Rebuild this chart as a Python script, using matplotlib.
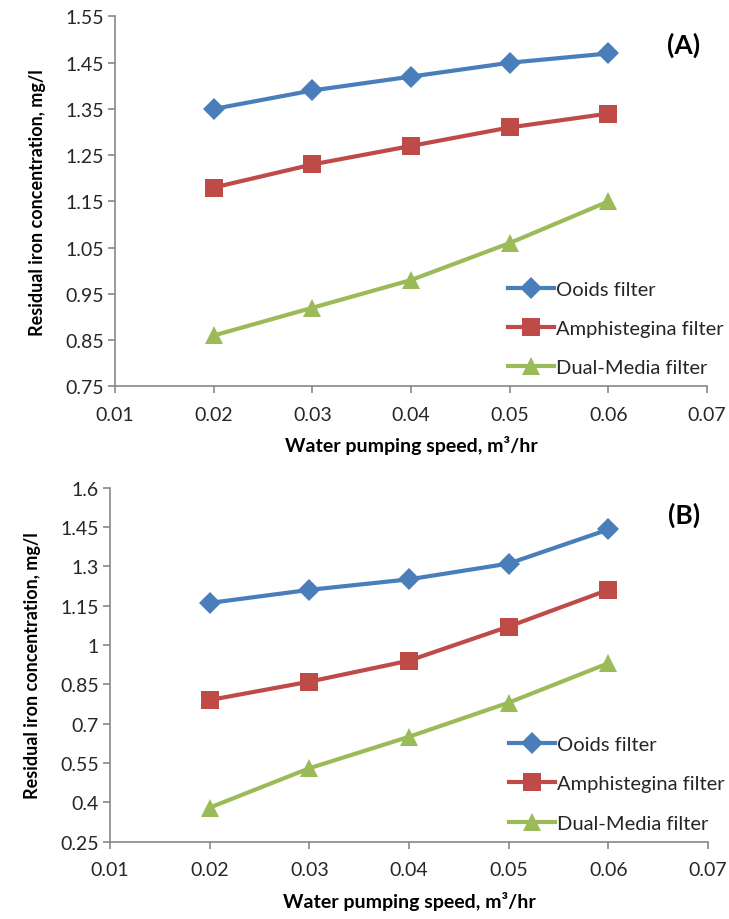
import matplotlib
matplotlib.use("Agg")
import matplotlib.pyplot as plt

plt.rcParams['font.family'] = ['Lato', 'DejaVu Sans']

# data
speed = [0.02, 0.03, 0.04, 0.05, 0.06]
series_names = ["Ooids filter", "Amphistegina filter", "Dual-Media filter"]

ooids_a = [1.35, 1.39, 1.42, 1.45, 1.47]
amph_a = [1.18, 1.23, 1.27, 1.31, 1.34]
dual_a = [0.86, 0.92, 0.98, 1.06, 1.15]

ooids_b = [1.16, 1.21, 1.25, 1.31, 1.44]
amph_b = [0.79, 0.86, 0.94, 1.07, 1.21]
dual_b = [0.38, 0.53, 0.65, 0.78, 0.93]

x_ticks = [0.01, 0.02, 0.03, 0.04, 0.05, 0.06, 0.07]
y_ticks_a = [0.75, 0.85, 0.95, 1.05, 1.15, 1.25, 1.35, 1.45, 1.55]
y_ticks_b = [0.25, 0.4, 0.55, 0.7, 0.85, 1, 1.15, 1.3, 1.45, 1.6]
y_labels_b = ["0.25", "0.4", "0.55", "0.7", "0.85", "1", "1.15", "1.3", "1.45", "1.6"]

colors = ["#4A7EBB", "#BE4B48", "#9BBB59"]
markers = ["D", "s", "^"]
msizes = [11, 12.5, 12.5]
axis_gray = "#888888"
text_col = "#262626"


def draw_panel(ax, ys, yticks, ylabels, tag):
    for vals, name, c, m, ms in zip(ys, series_names, colors, markers, msizes):
        ax.plot(speed, vals, color=c, marker=m, markersize=ms, linewidth=3.0,
                markeredgewidth=0, label=name)
    ax.set_xlim(0.01, 0.07)
    ax.set_ylim(yticks[0], yticks[-1])
    ax.set_xticks(x_ticks)
    ax.set_xticklabels([f"{v:.2f}" for v in x_ticks])
    ax.set_yticks(yticks)
    ax.set_yticklabels(ylabels)
    for s in ["top", "right"]:
        ax.spines[s].set_visible(False)
    for s in ["left", "bottom"]:
        ax.spines[s].set_color(axis_gray)
        ax.spines[s].set_linewidth(1.2)
    ax.tick_params(direction="out", length=5, width=1.2, color=axis_gray,
                   labelsize=14, labelcolor=text_col, pad=3)
    ax.tick_params(axis="x", pad=9)
    ax.set_xlabel("Water pumping speed, m³/hr", fontsize=14, fontweight="bold",
                  color="black", labelpad=9)
    ax.set_ylabel("Residual iron concentration, mg/l", fontsize=13, fontweight="bold",
                  color="black", labelpad=14)
    ax.text(0.96, 0.925, tag, transform=ax.transAxes, fontsize=19, fontweight="bold",
            ha="center", va="center")
    leg = ax.legend(loc="lower right", bbox_to_anchor=(1.045, 0.0), frameon=False,
                    fontsize=14.5, handlelength=2.3, handletextpad=0.1,
                    labelspacing=1.1, borderaxespad=0.1)
    for t in leg.get_texts():
        t.set_color(text_col)


fig = plt.figure(figsize=(7.29, 9.2), dpi=100)
ax_a = fig.add_axes([0.158, 0.579, 0.812, 0.402])
ax_b = fig.add_axes([0.151, 0.084, 0.820, 0.385])

draw_panel(ax_a, [ooids_a, amph_a, dual_a], y_ticks_a, [f"{v:.2f}" for v in y_ticks_a], "(A)")
draw_panel(ax_b, [ooids_b, amph_b, dual_b], y_ticks_b, y_labels_b, "(B)")

fig.savefig("out.png", dpi=100)
